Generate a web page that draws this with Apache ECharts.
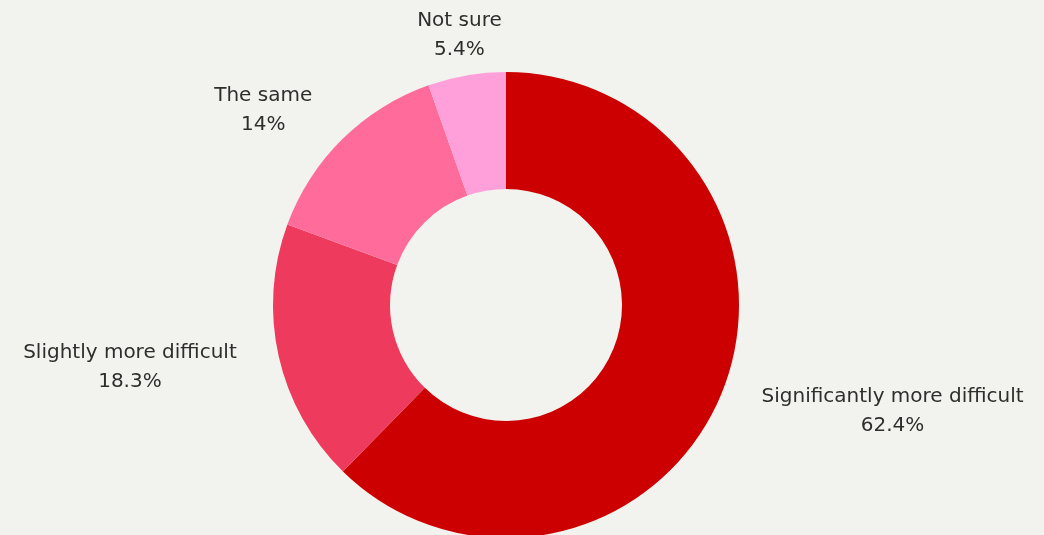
<!DOCTYPE html>
<html>
<head>
<meta charset="utf-8">
<script src="https://cdn.jsdelivr.net/npm/echarts@6/dist/echarts.min.js"></script>
<style>
  html, body { margin: 0; padding: 0; background: #F2F2EE; }
  #chart { width: 1044px; height: 535px; }
</style>
</head>
<body>
<div id="chart"></div>
<script>
// Survey answers, clockwise from 12 o'clock
const categories = [
  'Significantly more difficult',
  'Slightly more difficult',
  'The same',
  'Not sure'
];
const shares = [62.4, 18.3, 14, 5.4];
const sliceColors = ['#CD0000', '#EE3A5C', '#FF6B9B', '#FFA0DA'];

const chart = echarts.init(document.getElementById('chart'), null, { renderer: 'canvas' });

const data = categories.map((name, i) => ({
  name: name,
  value: shares[i],
  itemStyle: { color: sliceColors[i] }
}));

chart.setOption({
  backgroundColor: '#F2F2EE',
  animation: false,
  series: [{
    type: 'pie',
    center: [506, 305],
    radius: [116, 233],
    startAngle: 90,
    clockwise: true,
    avoidLabelOverlap: false,
    data: data,
    label: {
      show: true,
      position: 'outside',
      distanceToLabelLine: 0,
      formatter: p => '{t|' + p.name + '}\n{t|' + p.value + '%}',
      rich: {
        t: {
          fontFamily: '"DejaVu Sans", sans-serif',
          fontSize: 20,
          color: '#2E2E2E',
          lineHeight: 29,
          align: 'center'
        }
      }
    },
    labelLine: { show: false, length: 43, length2: 0 },
    labelLayout: function (params) {
      // labels sit a touch lower; the small top slice keeps its label centred
      const layout = { dy: 2 };
      if (params.dataIndex === 3) {
        layout.align = 'center';
      }
      return layout;
    }
  }]
});
</script>
</body>
</html>
